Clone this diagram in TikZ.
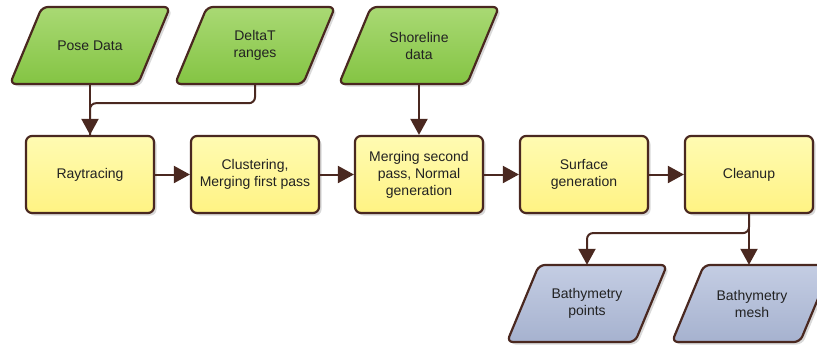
\documentclass[tikz,border=0pt]{standalone}
\usepackage{fontspec}
\setmainfont{Liberation Sans}
\usetikzlibrary{arrows.meta,shadows}
\definecolor{edge}{HTML}{4A2820}
\definecolor{gtop}{HTML}{A9D974}
\definecolor{gbot}{HTML}{84C443}
\definecolor{ytop}{HTML}{FFFBB2}
\definecolor{ybot}{HTML}{FFF383}
\definecolor{btop}{HTML}{C4CDE3}
\definecolor{bbot}{HTML}{A6B2CF}
\definecolor{txt}{HTML}{222222}
\tikzset{
  shapeline/.style={draw=edge, line width=2.2pt, rounded corners=6pt,
    drop shadow={shadow xshift=2.5pt, shadow yshift=-2.5pt, opacity=0.25, fill=black!60}},
  greenfill/.style={top color=gtop, bottom color=gbot},
  bluefill/.style={top color=btop, bottom color=bbot},
  label/.style={text=txt, font=\fontsize{14}{17}\selectfont, align=center,
    minimum width=128pt, minimum height=77pt, inner sep=0pt},
  procbox/.style={label, shapeline, top color=ytop, bottom color=ybot},
  conn/.style={draw=edge, line width=2pt, rounded corners=6pt},
  arr/.style={conn, -{Triangle[width=17pt,length=16pt]}},
}
\newcommand\parashape[3]{%
  \path[shapeline,#3] (#1-48,#2-38.5) -- (#1+80,#2-38.5) -- (#1+48,#2+38.5) -- (#1-80,#2+38.5) -- cycle;}
\begin{document}
\begin{tikzpicture}[x=1pt,y=-1pt]
\useasboundingbox (0,0) rectangle (817,348);
\clip (0,0) rectangle (817,348);
% input / output shapes
\parashape{90}{45.5}{greenfill}
\parashape{255}{45.5}{greenfill}
\parashape{419}{45.5}{greenfill}
\parashape{587}{303.5}{bluefill}
\parashape{752}{303.5}{bluefill}
\node[label] (pose)  at (90,45.5)  {Pose Data};
\node[label] (delta) at (255,45.5) {DeltaT\\ranges};
\node[label] (shore) at (419,45.5) {Shoreline\\data};
\node[label] (bpts)  at (587,303.5) {Bathymetry\\points};
\node[label] (bmesh) at (752,303.5) {Bathymetry\\mesh};
% process boxes
\node[procbox] (ray)   at (90,174.5)  {Raytracing};
\node[procbox] (clus)  at (255,174.5) {Clustering,\\Merging first pass};
\node[procbox] (merge) at (419,174.5) {Merging second\\pass, Normal\\generation};
\node[procbox] (surf)  at (584,174.5) {Surface\\generation};
\node[procbox] (clean) at (749,174.5) {Cleanup};
% connectors
\draw[conn] (delta.south) -- ++(0,19) -| (ray.north);
\draw[arr] (pose.south) -- (ray.north);
\draw[arr] (shore.south) -- (merge.north);
\draw[arr] (ray.east) -- (clus.west);
\draw[arr] (clus.east) -- (merge.west);
\draw[arr] (merge.east) -- (surf.west);
\draw[arr] (surf.east) -- (clean.west);
\draw[arr] (clean.south) -- (clean.south |- bmesh.north);
\draw[arr] (clean.south) -- ++(0,19) -| (bpts.north);
\end{tikzpicture}
\end{document}
